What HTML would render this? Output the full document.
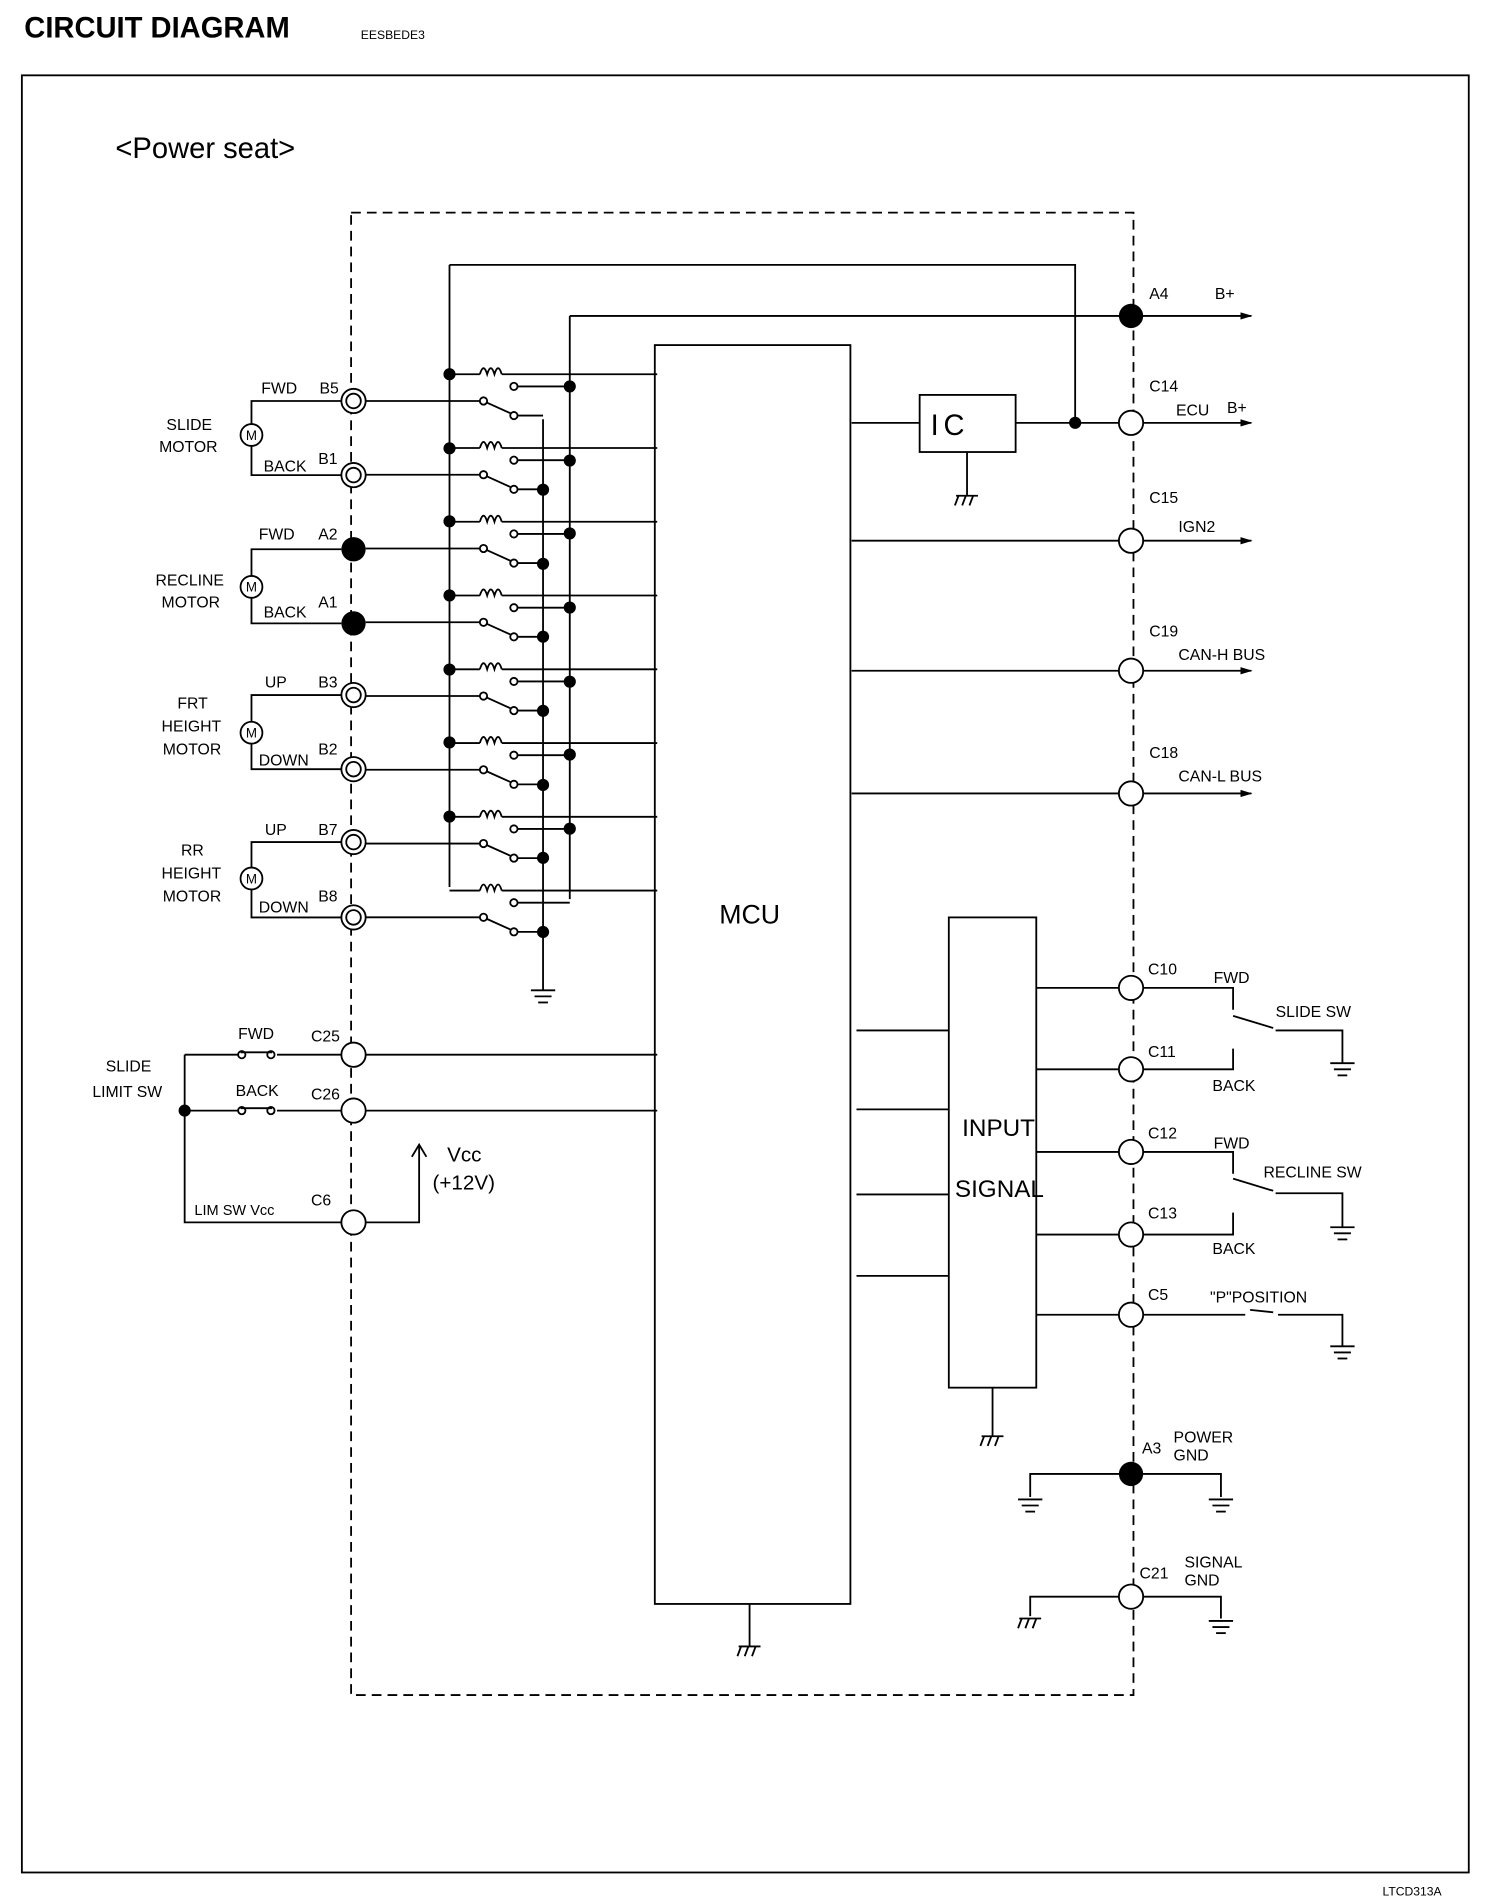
<!DOCTYPE html>
<html><head><style>
html,body{margin:0;padding:0;background:#fff;}
svg{display:block;}
text{font-family:"Liberation Sans",Arial,sans-serif;fill:#000;}
</style></head><body>
<svg width="1504" height="1898" viewBox="0 0 1238 1562" preserveAspectRatio="none" xmlns="http://www.w3.org/2000/svg">
<defs>
<marker id="ar" markerWidth="10" markerHeight="6" refX="9" refY="3" orient="auto" markerUnits="userSpaceOnUse"><path d="M0,0 L10,3 L0,6 z" fill="#000"/></marker>
<g id="gnd"><line x1="-10" y1="0" x2="10" y2="0"/><line x1="-7" y1="5" x2="7" y2="5"/><line x1="-4" y1="10" x2="4" y2="10"/></g>
<g id="cg"><line x1="-9" y1="0" x2="9" y2="0"/><line x1="-7" y1="0" x2="-10" y2="8"/><line x1="-1" y1="0" x2="-4" y2="8"/><line x1="5" y1="0" x2="2" y2="8"/></g>
</defs>
<rect width="1238" height="1562" fill="#fff"/>
<text x="20" y="31" font-size="24" font-weight="bold">CIRCUIT DIAGRAM</text>
<text x="297" y="32" font-size="10">EESBEDE3</text>
<text x="1138" y="1560" font-size="10">LTCD313A</text>
<rect x="18" y="62" width="1191" height="1479" fill="none" stroke="#000" stroke-width="1.5"/>
<text x="95" y="130" font-size="24">&lt;Power seat&gt;</text>
<g fill="none" stroke="#000" stroke-width="1.5">
<rect x="289" y="175" width="644" height="1220" stroke-dasharray="8,5"/>
<rect x="539" y="284" width="161" height="1036"/>
<rect x="757" y="325" width="79" height="47"/>
<rect x="781" y="755" width="72" height="387"/>
<polyline points="370,218 885,218 885,348"/>
<line x1="370" y1="218" x2="370" y2="730"/>
<line x1="469" y1="260" x2="469" y2="740"/>
<line x1="469" y1="260" x2="1030" y2="260" marker-end="url(#ar)"/>
<line x1="447" y1="345" x2="447" y2="815"/>
<use href="#gnd" x="447" y="815"/>
<line x1="701" y1="348" x2="757" y2="348"/>
<line x1="836" y1="348" x2="1030" y2="348" marker-end="url(#ar)"/>
<line x1="796" y1="372" x2="796" y2="408"/><use href="#cg" x="796" y="408"/>
<line x1="701" y1="445" x2="1030" y2="445" marker-end="url(#ar)"/>
<line x1="701" y1="552" x2="1030" y2="552" marker-end="url(#ar)"/>
<line x1="701" y1="653" x2="1030" y2="653" marker-end="url(#ar)"/>
<line x1="617" y1="1320" x2="617" y2="1355"/><use href="#cg" x="617" y="1355"/>
<line x1="817" y1="1142" x2="817" y2="1182"/><use href="#cg" x="817" y="1182"/>
<line x1="705" y1="848" x2="781" y2="848"/><line x1="705" y1="913" x2="781" y2="913"/>
<line x1="705" y1="983" x2="781" y2="983"/><line x1="705" y1="1050" x2="781" y2="1050"/>
<line x1="853" y1="813" x2="931" y2="813"/><line x1="853" y1="880" x2="931" y2="880"/>
<line x1="853" y1="948" x2="931" y2="948"/><line x1="853" y1="1016" x2="931" y2="1016"/>
<line x1="853" y1="1082" x2="931" y2="1082"/>
<polyline points="931,813 1015,813 1015,831"/><polyline points="931,880 1015,880 1015,863"/>
<polyline points="1050,848 1105,848 1105,875"/><use href="#gnd" x="1105" y="875"/>
<line x1="1015" y1="836" x2="1048" y2="846"/>
<polyline points="931,948 1015,948 1015,966"/><polyline points="931,1016 1015,1016 1015,998"/>
<polyline points="1050,982 1105,982 1105,1010"/><use href="#gnd" x="1105" y="1010"/>
<line x1="1015" y1="970" x2="1048" y2="980"/>
<polyline points="931,1082 1025,1082"/><line x1="1029" y1="1078" x2="1048" y2="1080"/>
<polyline points="1052,1082 1105,1082 1105,1108"/><use href="#gnd" x="1105" y="1108"/>
<polyline points="848,1232 848,1213 1005,1213 1005,1232"/><use href="#gnd" x="848" y="1234"/><use href="#gnd" x="1005" y="1234"/>
<polyline points="848,1330 848,1314 1005,1314 1005,1332"/><use href="#cg" x="848" y="1332"/><use href="#gnd" x="1005" y="1334"/>
<polyline points="152,868 152,1006 281,1006"/>
<line x1="152" y1="868" x2="196" y2="868"/><line x1="228" y1="868" x2="281" y2="868"/>
<line x1="152" y1="914" x2="196" y2="914"/><line x1="228" y1="914" x2="281" y2="914"/>
<line x1="198" y1="866" x2="224" y2="866"/><line x1="198" y1="912" x2="224" y2="912"/>
<line x1="301" y1="868" x2="541" y2="868"/><line x1="301" y1="914" x2="541" y2="914"/>
<polyline points="301,1006 345,1006 345,942"/><polyline points="339,952 345,942 351,952"/>
<circle cx="199" cy="868" r="3"/><circle cx="223" cy="868" r="3"/><circle cx="199" cy="914" r="3"/><circle cx="223" cy="914" r="3"/>
</g>
<g fill="none" stroke="#000" stroke-width="1.5">
<g id="r0">
<line x1="370" y1="308" x2="395" y2="308"/><path d="M395,308 q3,-10 6,0 q3,-10 6,0 q3,-10 6,0"/><line x1="413" y1="308" x2="541" y2="308"/>
<line x1="301" y1="330" x2="395" y2="330"/><circle cx="398" cy="330" r="3"/><line x1="400" y1="331" x2="420" y2="340"/>
<circle cx="423" cy="318" r="3"/><line x1="426" y1="318" x2="469" y2="318"/>
<circle cx="423" cy="342" r="3"/><line x1="426" y1="342" x2="447" y2="342"/>
</g>
<use href="#r0" y="60.7"/><use href="#r0" y="121.4"/><use href="#r0" y="182.1"/><use href="#r0" y="242.8"/>
<use href="#r0" y="303.5"/><use href="#r0" y="364.2"/><use href="#r0" y="424.9"/>
</g>
<g fill="#000">
<circle cx="370" cy="308" r="5"/><circle cx="370" cy="369" r="5"/><circle cx="370" cy="429" r="5"/><circle cx="370" cy="490" r="5"/>
<circle cx="370" cy="551" r="5"/><circle cx="370" cy="611" r="5"/><circle cx="370" cy="672" r="5"/>
<circle cx="469" cy="318" r="5"/><circle cx="469" cy="379" r="5"/><circle cx="469" cy="439" r="5"/><circle cx="469" cy="500" r="5"/>
<circle cx="469" cy="561" r="5"/><circle cx="469" cy="621" r="5"/><circle cx="469" cy="682" r="5"/>
<circle cx="447" cy="403" r="5"/><circle cx="447" cy="464" r="5"/><circle cx="447" cy="524" r="5"/><circle cx="447" cy="585" r="5"/>
<circle cx="447" cy="646" r="5"/><circle cx="447" cy="706" r="5"/><circle cx="447" cy="767" r="5"/>
<circle cx="885" cy="348" r="5"/><circle cx="152" cy="914" r="5"/>
<circle cx="931" cy="260" r="10"/><circle cx="931" cy="1213" r="10"/>
<circle cx="291" cy="452" r="10"/><circle cx="291" cy="513" r="10"/>
</g>
<g fill="#fff" stroke="#000" stroke-width="1.5">
<circle cx="931" cy="348" r="10"/><circle cx="931" cy="445" r="10"/><circle cx="931" cy="552" r="10"/><circle cx="931" cy="653" r="10"/>
<circle cx="931" cy="813" r="10"/><circle cx="931" cy="880" r="10"/><circle cx="931" cy="948" r="10"/><circle cx="931" cy="1016" r="10"/>
<circle cx="931" cy="1082" r="10"/><circle cx="931" cy="1314" r="10"/>
<circle cx="291" cy="868" r="10"/><circle cx="291" cy="914" r="10"/><circle cx="291" cy="1006" r="10"/>
<circle cx="291" cy="330" r="10"/><circle cx="291" cy="330" r="6"/>
<circle cx="291" cy="391" r="10"/><circle cx="291" cy="391" r="6"/>
<circle cx="291" cy="572" r="10"/><circle cx="291" cy="572" r="6"/>
<circle cx="291" cy="633" r="10"/><circle cx="291" cy="633" r="6"/>
<circle cx="291" cy="693" r="10"/><circle cx="291" cy="693" r="6"/>
<circle cx="291" cy="755" r="10"/><circle cx="291" cy="755" r="6"/>
</g>
<g fill="none" stroke="#000" stroke-width="1.5">
<polyline points="281,330 207,330 207,349"/><polyline points="281,391 207,391 207,367"/><circle cx="207" cy="358" r="9"/>
<polyline points="281,452 207,452 207,474"/><polyline points="281,513 207,513 207,492"/><circle cx="207" cy="483" r="9"/>
<polyline points="281,572 207,572 207,594"/><polyline points="281,633 207,633 207,612"/><circle cx="207" cy="603" r="9"/>
<polyline points="281,693 207,693 207,714"/><polyline points="281,755 207,755 207,732"/><circle cx="207" cy="723" r="9"/>
</g>
<g text-anchor="middle" font-size="11">
<text x="207" y="362">M</text><text x="207" y="487">M</text><text x="207" y="607">M</text><text x="207" y="727">M</text>
</g>
<g font-size="13">
<text x="215" y="324">FWD</text><text x="263" y="324">B5</text>
<text x="217" y="388">BACK</text><text x="262" y="382">B1</text>
<text x="213" y="444">FWD</text><text x="262" y="444">A2</text>
<text x="217" y="508">BACK</text><text x="262" y="500">A1</text>
<text x="218" y="566">UP</text><text x="262" y="566">B3</text>
<text x="213" y="630">DOWN</text><text x="262" y="621">B2</text>
<text x="218" y="687">UP</text><text x="262" y="687">B7</text>
<text x="213" y="751">DOWN</text><text x="262" y="742">B8</text>
<text x="137" y="354">SLIDE</text><text x="131" y="372">MOTOR</text>
<text x="128" y="482">RECLINE</text><text x="133" y="500">MOTOR</text>
<text x="146" y="583">FRT</text><text x="133" y="602">HEIGHT</text><text x="134" y="621">MOTOR</text>
<text x="149" y="704">RR</text><text x="133" y="723">HEIGHT</text><text x="134" y="742">MOTOR</text>
<text x="87" y="882">SLIDE</text><text x="76" y="903">LIMIT SW</text>
<text x="196" y="855">FWD</text><text x="194" y="902">BACK</text>
<text x="256" y="857">C25</text><text x="256" y="905">C26</text><text x="256" y="992">C6</text>
<text x="160" y="1000" font-size="12">LIM SW Vcc</text>
<text x="368" y="956" font-size="17">Vcc</text><text x="356" y="979" font-size="17">(+12V)</text>
<text x="946" y="246">A4</text><text x="1000" y="246">B+</text>
<text x="946" y="322">C14</text><text x="968" y="342">ECU</text><text x="1010" y="340">B+</text>
<text x="946" y="414">C15</text><text x="970" y="438">IGN2</text>
<text x="946" y="524">C19</text><text x="970" y="543">CAN-H BUS</text>
<text x="946" y="624">C18</text><text x="970" y="643">CAN-L BUS</text>
<text x="945" y="802">C10</text><text x="999" y="809">FWD</text><text x="1050" y="837">SLIDE SW</text>
<text x="945" y="870">C11</text><text x="998" y="898">BACK</text>
<text x="945" y="937">C12</text><text x="999" y="945">FWD</text><text x="1040" y="969">RECLINE SW</text>
<text x="945" y="1003">C13</text><text x="998" y="1032">BACK</text>
<text x="945" y="1070">C5</text><text x="996" y="1072">"P"POSITION</text>
<text x="940" y="1196">A3</text><text x="966" y="1187">POWER</text><text x="966" y="1202">GND</text>
<text x="938" y="1299">C21</text><text x="975" y="1290">SIGNAL</text><text x="975" y="1305">GND</text>
</g>
<text x="766" y="358" font-size="24" letter-spacing="4">IC</text>
<text x="592" y="760" font-size="22">MCU</text>
<text x="792" y="935" font-size="20">INPUT</text>
<text x="786" y="985" font-size="20">SIGNAL</text>
</svg>
</body></html>
